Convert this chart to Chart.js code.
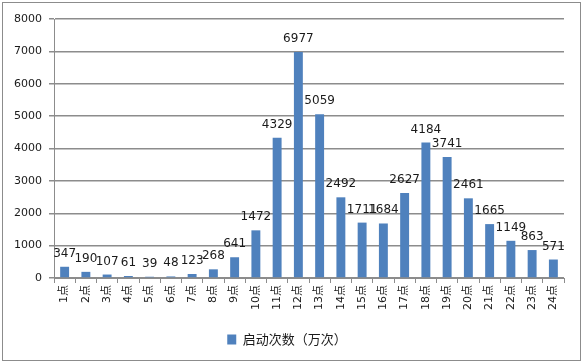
<!DOCTYPE html>
<html>
<head>
<meta charset="utf-8">
<script src="https://cdn.jsdelivr.net/npm/chart.js@4"></script>
<style>
  body { margin: 0; background: #fff; }
  #frame { position: absolute; left: 2px; top: 2px; width: 577px; height: 357px; border: 1px solid #8c8c8c; }
  #wrap { position: absolute; left: 0; top: 0; width: 584px; height: 364px; }
</style>
</head>
<body>
<div id="frame"></div>
<div id="wrap"><canvas id="chart" width="584" height="364"></canvas></div>
<script>
// 每小时启动次数（万次）
const hours = ['1点', '2点', '3点', '4点', '5点', '6点', '7点', '8点', '9点', '10点', '11点', '12点',
               '13点', '14点', '15点', '16点', '17点', '18点', '19点', '20点', '21点', '22点', '23点', '24点'];
const starts = [347, 190, 107, 61, 39, 48, 123, 268, 641, 1472, 4329, 6977,
                5059, 2492, 1711, 1684, 2627, 4184, 3741, 2461, 1665, 1149, 863, 571];
const seriesName = '启动次数（万次）';

const fontFamily = '"DejaVu Sans", Verdana, "Noto Sans CJK SC", sans-serif';

// 柱顶数值标签
const valueLabels = {
    id: 'valueLabels',
    afterDatasetsDraw(chart) {
        const ctx = chart.ctx;
        const meta = chart.getDatasetMeta(0);
        ctx.save();
        ctx.font = '12px ' + fontFamily;
        ctx.fillStyle = '#1a1a1a';
        ctx.textAlign = 'center';
        ctx.textBaseline = 'alphabetic';
        meta.data.forEach(function(bar, i) {
            ctx.fillText(String(starts[i]), bar.x, bar.y - 10);
        });
        ctx.restore();
    }
};

const ctx = document.getElementById('chart').getContext('2d');
new Chart(ctx, {
    type: 'bar',
    data: {
        labels: hours,
        datasets: [{
            label: seriesName,
            data: starts,
            backgroundColor: '#4f81bd',
            borderWidth: 0,
            barPercentage: 0.42,
            categoryPercentage: 1
        }]
    },
    options: {
        responsive: false,
        animation: false,
        layout: { padding: { left: 10, right: 20, top: 19, bottom: 8 } },
        scales: {
            x: {
                grid: { drawOnChartArea: false, drawTicks: true, tickLength: 5, color: '#8c8c8c' },
                border: { color: '#8c8c8c' },
                ticks: {
                    minRotation: 90, maxRotation: 90, padding: 2,
                    color: '#1a1a1a',
                    font: { family: fontFamily, size: 11 }
                },
                afterFit(scale) { scale.height = 45; }
            },
            y: {
                min: 0, max: 8000,
                ticks: {
                    stepSize: 1000, padding: 7,
                    color: '#1a1a1a',
                    font: { family: fontFamily, size: 11 },
                    callback: function(v) { return String(v); }
                },
                grid: { color: '#8c8c8c', lineWidth: 1.5, tickLength: 5 },
                border: { color: '#8c8c8c' },
                afterFit(scale) { scale.width = 44; }
            }
        },
        plugins: {
            legend: {
                position: 'bottom',
                labels: {
                    boxWidth: 9, boxHeight: 10, padding: 10,
                    color: '#1a1a1a',
                    font: { family: '"Noto Sans CJK SC", sans-serif', size: 13 }
                }
            },
            tooltip: { enabled: false }
        }
    },
    plugins: [valueLabels]
});
</script>
</body>
</html>
